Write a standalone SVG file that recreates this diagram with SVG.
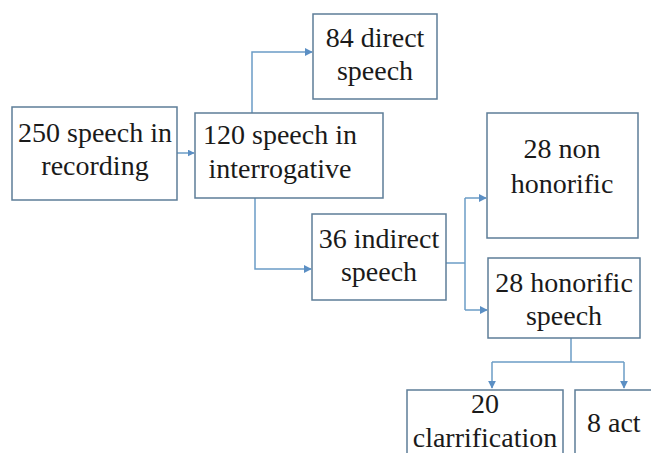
<svg xmlns="http://www.w3.org/2000/svg" width="651" height="453" viewBox="0 0 651 453">
<style>
.box{fill:#ffffff;stroke:#5d7d98;stroke-width:1.5}
.t{font-family:'Liberation Serif','Times New Roman',serif;font-size:28px;fill:#1a1a1a;text-anchor:middle}
.c{fill:none;stroke:#6b9cc6;stroke-width:1.5}
</style>
<defs>
<marker id="ah" viewBox="0 0 10 10" refX="9" refY="5" markerWidth="8" markerHeight="8" markerUnits="userSpaceOnUse" orient="auto">
<path d="M0,0 L10,5 L0,10 z" fill="#5b8fc4"/>
</marker>
<marker id="ahs" viewBox="0 0 10 10" refX="9" refY="5" markerWidth="7" markerHeight="7" markerUnits="userSpaceOnUse" orient="auto">
<path d="M0,0 L10,5 L0,10 z" fill="#5b8fc4"/>
</marker>
</defs>
<rect width="651" height="453" fill="#ffffff"/>
<g id="connectors">
<path class="c" d="M177,153 L194,153" marker-end="url(#ahs)"/>
<path class="c" d="M252,113 L252,52 L312,52" marker-end="url(#ah)"/>
<path class="c" d="M255,198 L255,269 L311,269" marker-end="url(#ah)"/>
<path class="c" d="M446,263 L465,263"/>
<path class="c" d="M465,198 L465,310"/>
<path class="c" d="M465,198 L486,198" marker-end="url(#ah)"/>
<path class="c" d="M465,310 L487,310" marker-end="url(#ah)"/>
<path class="c" d="M571,338 L571,362"/>
<path class="c" d="M492,362 L624,362"/>
<path class="c" d="M492,362 L492,388" marker-end="url(#ah)"/>
<path class="c" d="M624,362 L624,388" marker-end="url(#ah)"/>
</g>
<g id="n250">
<rect class="box" x="12" y="107" width="165" height="93"/>
<text class="t" x="95" y="142">250 speech in</text>
<text class="t" x="95" y="175">recording</text>
</g>
<g id="n120">
<rect class="box" x="195" y="113" width="188" height="85"/>
<text class="t" x="280" y="144">120 speech in</text>
<text class="t" x="280" y="178">interrogative</text>
</g>
<g id="n84">
<rect class="box" x="313" y="14" width="124" height="85"/>
<text class="t" x="375" y="47">84 direct</text>
<text class="t" x="375" y="80">speech</text>
</g>
<g id="n36">
<rect class="box" x="312" y="214" width="134" height="86"/>
<text class="t" x="379" y="248">36 indirect</text>
<text class="t" x="379" y="281">speech</text>
</g>
<g id="nnon">
<rect class="box" x="487" y="113" width="151" height="125"/>
<text class="t" x="562" y="158">28 non</text>
<text class="t" x="562" y="193">honorific</text>
</g>
<g id="nhon">
<rect class="box" x="488" y="258" width="152" height="80"/>
<text class="t" x="564" y="292">28 honorific</text>
<text class="t" x="564" y="325">speech</text>
</g>
<g id="n20">
<rect class="box" x="407" y="390" width="156" height="75"/>
<text class="t" x="485" y="413">20</text>
<text class="t" x="485" y="447">clarrification</text>
</g>
<g id="n8">
<rect class="box" x="575" y="390" width="90" height="75"/>
<text class="t" x="587" y="432" style="text-anchor:start">8 act</text>
</g>
</svg>
